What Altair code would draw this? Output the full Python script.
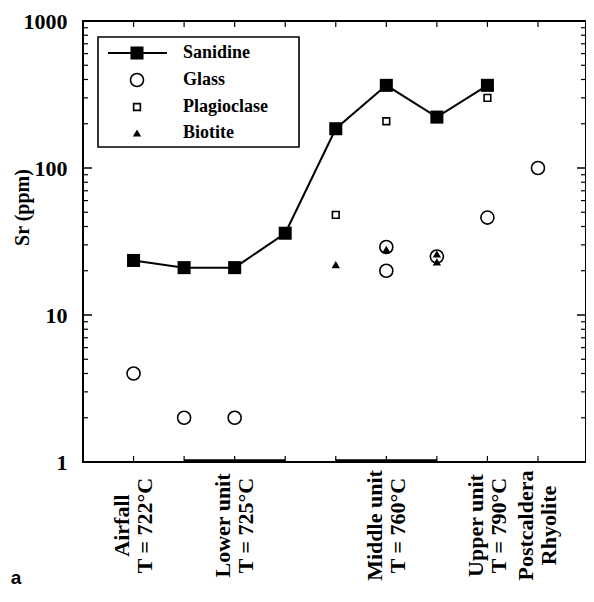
import altair as alt
import pandas as pd

# ---------------- data ----------------
series_names = ["Sanidine", "Glass", "Plagioclase", "Biotite"]

sanidine_x = [1, 2, 3, 4, 5, 6, 7, 8]
sanidine_sr = [23.5, 21, 21, 36, 185, 365, 222, 365]

glass_x = [1, 2, 3, 6, 6, 7, 8, 9]
glass_sr = [4, 2, 2, 29, 20, 25, 46, 100]

plag_x = [5, 6, 8]
plag_sr = [48, 208, 300]

biotite_x = [5, 6, 7, 7]
biotite_sr = [22, 28, 26, 23]

x_ticks = [1, 2, 3, 4, 5, 6, 7, 8, 9]
label_pos = [1, 3, 6, 8, 9]
label_lines = [
    ["Airfall", "T = 722°C"],
    ["Lower unit", "T = 725°C"],
    ["Middle unit", "T = 760°C"],
    ["Upper unit", "T = 790°C"],
    ["Postcaldera", "Rhyolite"],
]
group_start = [2, 5]
group_end = [4, 7]

y_major = [1, 10, 100, 1000]
y_minor = [m * d for d in [1, 10, 100] for m in range(2, 10)]

# ---------------- layout ----------------
W, H = 503, 441
SERIF = "Liberation Serif"

xs = alt.Scale(domain=[0, 9.95], nice=False, zero=False)
ys = alt.Scale(type="log", domain=[1, 1000], nice=False)

expr = "''"
for p, lines in reversed(list(zip(label_pos, label_lines))):
    arr = "[" + ",".join("'" + s + "'" for s in lines) + "]"
    expr = f"datum.value == {p} ? {arr} : ({expr})"

x_axis = alt.Axis(
    values=x_ticks, ticks=False, domain=False, grid=False, title=None,
    labelExpr=expr, labelAngle=-90, labelAlign="center", labelBaseline="middle",
    labelPadding=63, labelOffset=-12, labelFont=SERIF, labelFontSize=22,
    labelFontWeight="bold", labelLineHeight=23, labelColor="black", labelOverlap=False,
)
y_axis = alt.Axis(
    values=y_major, ticks=False, domain=False, grid=False, format="d",
    labelFont=SERIF, labelFontSize=22, labelFontWeight="bold", labelPadding=16,
    labelColor="black", labelOverlap=False,
    title="Sr (ppm)", titleFont=SERIF, titleFontSize=20, titleFontWeight="bold",
    titleX=-61, titleY=186, titleAlign="center", titleBaseline="middle",
    titleColor="black",
)

san = pd.DataFrame({"x": sanidine_x, "sr": sanidine_sr})
gla = pd.DataFrame({"x": glass_x, "sr": glass_sr})
pla = pd.DataFrame({"x": plag_x, "sr": plag_sr})
bio = pd.DataFrame({"x": biotite_x, "sr": biotite_sr})

X = alt.X("x:Q", scale=xs, axis=x_axis)
Y = alt.Y("sr:Q", scale=ys, axis=y_axis)

line = alt.Chart(san).mark_line(color="black", strokeWidth=2).encode(x=X, y=Y)
san_pts = alt.Chart(san).mark_point(shape="square", filled=True, color="black", size=170, opacity=1).encode(x=X, y=Y)
gla_pts = alt.Chart(gla).mark_point(shape="circle", filled=False, color="black", size=170, strokeWidth=1.6, opacity=1).encode(x=X, y=Y)
pla_pts = alt.Chart(pla).mark_point(shape="square", filled=False, color="black", size=45, strokeWidth=1.6, opacity=1).encode(x=X, y=Y)
bio_pts = alt.Chart(bio).mark_point(shape="triangle-up", filled=True, color="black", size=70, opacity=1).encode(x=X, y=Y)

# inward ticks
xt = pd.DataFrame({"x": x_ticks})
top_ticks = alt.Chart(xt).mark_rule(color="black", strokeWidth=1.2).encode(x=X, y=alt.value(0), y2=alt.value(6))
bot_ticks = alt.Chart(xt).mark_rule(color="black", strokeWidth=1.2).encode(x=X, y=alt.value(H), y2=alt.value(H - 6))

ymaj = pd.DataFrame({"sr": y_major})
ymin = pd.DataFrame({"sr": y_minor})
left_major = alt.Chart(ymaj).mark_rule(color="black", strokeWidth=1.5).encode(y=Y, x=alt.value(0), x2=alt.value(9))
right_major = alt.Chart(ymaj).mark_rule(color="black", strokeWidth=1.5).encode(y=Y, x=alt.value(W), x2=alt.value(W - 9))
left_minor = alt.Chart(ymin).mark_rule(color="black", strokeWidth=1.2).encode(y=Y, x=alt.value(0), x2=alt.value(5))
right_minor = alt.Chart(ymin).mark_rule(color="black", strokeWidth=1.2).encode(y=Y, x=alt.value(W), x2=alt.value(W - 5))

grp = pd.DataFrame({"x": group_start, "x2": group_end})
groups = alt.Chart(grp).mark_rule(color="black", strokeWidth=3.5).encode(
    x=X, x2="x2:Q", y=alt.value(H - 1))

# legend (drawn by hand)
one = pd.DataFrame({"k": [0]})
leg_box = alt.Chart(one).mark_rect(fill="white", stroke="black", strokeWidth=1.6).encode(
    x=alt.value(15), x2=alt.value(216), y=alt.value(16), y2=alt.value(126))
row_y = [32, 59, 86, 112]
leg_layers = [leg_box]
leg_layers.append(alt.Chart(one).mark_rule(color="black", strokeWidth=2).encode(
    x=alt.value(25), x2=alt.value(84), y=alt.value(row_y[0])))
sym_specs = [
    dict(shape="square", filled=True, size=170),
    dict(shape="circle", filled=False, size=170, strokeWidth=1.6),
    dict(shape="square", filled=False, size=45, strokeWidth=1.6),
    dict(shape="triangle-up", filled=True, size=70),
]
for name, ry, spec in zip(series_names, row_y, sym_specs):
    leg_layers.append(alt.Chart(one).mark_point(color="black", opacity=1, **spec).encode(
        x=alt.value(54), y=alt.value(ry)))
    leg_layers.append(alt.Chart(one).mark_text(
        text=name, align="left", baseline="middle", font=SERIF, fontSize=18,
        fontWeight="bold", color="black").encode(x=alt.value(100), y=alt.value(ry)))

panel_label = alt.Chart(one).mark_text(
    text="a", font="Liberation Sans", fontSize=19, fontWeight="bold", color="black",
    align="center", baseline="middle").encode(x=alt.value(-67), y=alt.value(557))

chart = alt.layer(
    line, groups, top_ticks, bot_ticks, left_major, right_major, left_minor, right_minor,
    *leg_layers, san_pts, gla_pts, pla_pts, bio_pts, panel_label,
).properties(
    width=W, height=H,
    background="white",
    autosize=alt.AutoSizeParams(type="none"),
    padding={"left": 75, "top": 13, "right": 0, "bottom": 130},
).configure_view(
    stroke="black", strokeWidth=2
)

chart.save("out.html", embed_options={"renderer": "svg", "actions": False})
